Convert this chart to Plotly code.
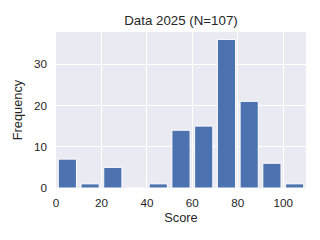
import plotly.graph_objects as go

bin_centers = [5, 15, 25, 35, 45, 55, 65, 75, 85, 95, 105]
frequencies = [7, 1, 5, 0, 1, 14, 15, 36, 21, 6, 1]
x_ticks = [0, 20, 40, 60, 80, 100]
y_ticks = [0, 10, 20, 30]

font_fam = "Arial, Liberation Sans, sans-serif"
txt = "#262626"

fig = go.Figure(go.Bar(
    x=bin_centers, y=frequencies, width=8,
    marker=dict(color="#4C72B0", line=dict(color="white", width=1)),
))
fig.update_layout(
    width=320, height=240,
    margin=dict(l=56, r=14, t=32, b=52),
    paper_bgcolor="white", plot_bgcolor="#EAEAF2",
    font=dict(family=font_fam, color=txt, size=11.7),
    title=dict(text="Data 2025 (N=107)", x=(56 + 306) / 2 / 320, xanchor="center",
               y=1 - 20 / 240, yanchor="middle", font=dict(size=13.3, color=txt)),
    showlegend=False,
)
fig.update_xaxes(range=[0, 110], tickvals=x_ticks, showgrid=True, gridcolor="white",
                 gridwidth=1, zeroline=False, showline=False, ticks="",
                 ticklabelstandoff=6, tickfont=dict(size=11.7, color=txt),
                 title=dict(text="Score", font=dict(size=12.8, color=txt), standoff=5))
fig.update_yaxes(range=[0, 37.8], tickvals=y_ticks, showgrid=True, gridcolor="white",
                 gridwidth=1, zeroline=False, showline=False, ticks="",
                 ticklabelstandoff=8, tickfont=dict(size=11.7, color=txt),
                 title=dict(text="Frequency", font=dict(size=12.8, color=txt), standoff=8))
fig.write_html("out.html")
